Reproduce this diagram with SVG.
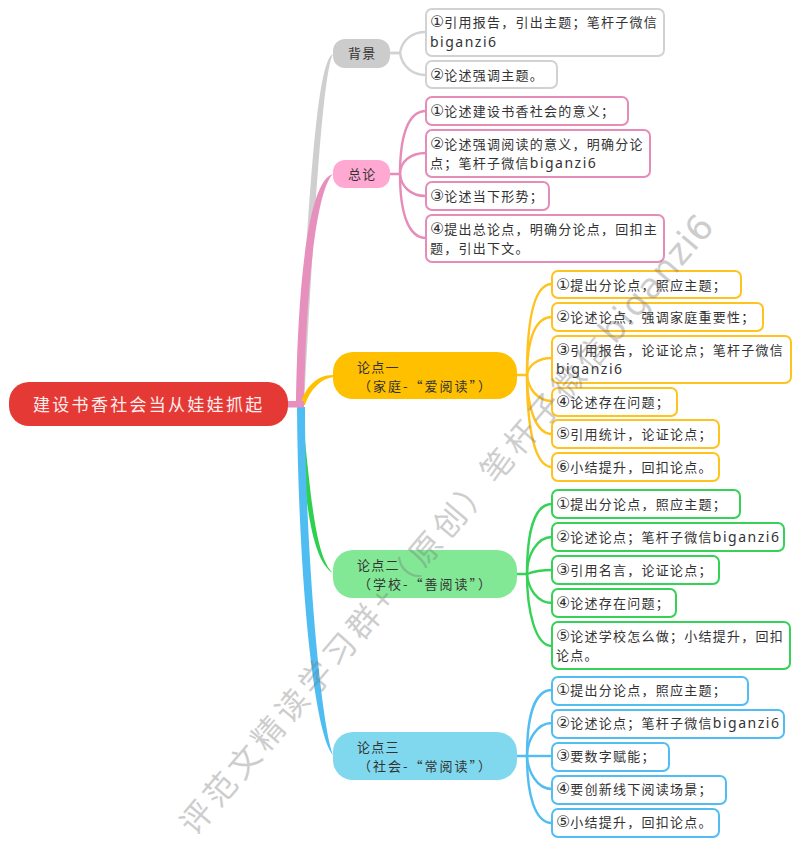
<svg xmlns="http://www.w3.org/2000/svg" width="800" height="845" viewBox="0 0 800 845">
<style>
text{font-family:"Noto Sans CJK SC","Noto Sans",sans-serif;font-size:13px;letter-spacing:1.25px;fill:#333}
.n{letter-spacing:2px}
.m{font-family:"Noto Sans",sans-serif;font-size:14px;letter-spacing:1.5px}
.d{font-family:"DejaVu Sans",sans-serif;font-size:16px;letter-spacing:0}
.box{fill:#fff;stroke-width:2}
.gy{stroke:#d2d2d2}.pk{stroke:#e58cb9}.yl{stroke:#ffc31f}.gn{stroke:#35d257}.bl{stroke:#52bdf2}
.c{fill:none;stroke-width:2.4}
.root{font-size:17px;letter-spacing:2.3px;fill:#ffeeee}
.wm{font-size:32px;letter-spacing:4.7px;fill:#777;opacity:.36}
.wm tspan{font-family:"DejaVu Sans",sans-serif;font-size:35px;letter-spacing:1px}
</style>
<rect width="800" height="845" fill="#fff"/>
<g id="connectors">
<path fill="#cfcfcf" d="M296,404C308,240 314,62 333,54C322,75 313,240 304,404Z"/>
<path fill="#e78fbd" d="M296,404C298,270 310,180 333,174C316,190 306,290 304,404Z"/>
<path fill="#ffc000" d="M300,405C305,388 316,375 333,375L333,377C320,379 310,390 305,405Z"/>
<path fill="#2ed14f" d="M300,420C304,490 310,560 333,573C316,558 311,500 303,420Z"/>
<path fill="#4fbdf2" d="M297,407C298,560 312,730 333,755C320,720 305,540 305,407Z"/>
<rect x="286" y="401" width="18" height="6.5" fill="#e78fbd"/>
<g class="c gy">
<path d="M390,53H400C402,40 412,32 426,32"/>
<path d="M390,53H400C402,66 412,75 426,75"/>
</g>
<g class="c pk">
<path d="M390,174H400C400,136 408,111 426,111"/>
<path d="M400,174C400,162 410,153 426,153"/>
<path d="M400,174C401,186 410,196 426,196"/>
<path d="M400,174C400,212 408,238 426,238"/>
</g>
<g class="c yl">
<path d="M517,375H527C527,320 534,284 552,284"/>
<path d="M527,375C527,340 535,317 552,317"/>
<path d="M527,375C528,366 537,358 552,358"/>
<path d="M527,375C528,388 537,401 552,401"/>
<path d="M527,375C527,405 535,434 552,434"/>
<path d="M527,375C527,425 534,467 552,467"/>
</g>
<g class="c gn">
<path d="M517,574H527C527,530 535,504 552,504"/>
<path d="M527,574C527,555 537,537 552,537"/>
<path d="M527,574C532,572 542,570 552,570"/>
<path d="M527,574C528,588 537,603 552,603"/>
<path d="M527,574C527,610 535,646 552,646"/>
</g>
<g class="c bl">
<path d="M517,756H527C527,715 535,690 552,690"/>
<path d="M527,756C527,740 537,723 552,723"/>
<path d="M527,756H552"/>
<path d="M527,756C528,772 537,789 552,789"/>
<path d="M527,756C527,795 535,823 552,823"/>
</g>
</g>
<g id="root"><rect x="9" y="382" width="279" height="44" rx="20" fill="#e53935"/><text class="root" x="33" y="411">建设书香社会当从娃娃抓起</text></g>
<g id="n-bj"><rect x="333" y="39" width="57" height="29" rx="12" fill="#cccccc"/><text x="348" y="58">背景</text></g>
<g id="n-zl"><rect x="333" y="160" width="57" height="28" rx="12" fill="#ffa8d2"/><text x="348" y="179">总论</text></g>
<g id="n-1"><rect x="333" y="352" width="184" height="47" rx="20" fill="#ffc000"/><text x="357" y="372">论点一</text><text class="n" x="358" y="391">（家庭-“爱阅读”）</text></g>
<g id="n-2"><rect x="333" y="550" width="184" height="48" rx="20" fill="#82e896"/><text x="357" y="570">论点二</text><text class="n" x="358" y="589">（学校-“善阅读”）</text></g>
<g id="n-3"><rect x="333" y="732" width="184" height="48" rx="20" fill="#7fd8ee"/><text x="357" y="752">论点三</text><text class="n" x="358" y="771">（社会-“常阅读”）</text></g>

<g id="b-bj1"><rect class="box gy" x="426" y="9" width="238" height="47" rx="6"/><text x="430" y="27"><tspan class="d">①</tspan>引用报告，引出主题；笔杆子微信</text><text class="m" x="430" y="47">biganzi6</text></g>
<g id="b-bj2"><rect class="box gy" x="426" y="61" width="131" height="27" rx="6"/><text x="430" y="80"><tspan class="d">②</tspan>论述强调主题。</text></g>
<g id="b-zl1"><rect class="box pk" x="426" y="97" width="202" height="28" rx="6"/><text x="430" y="116"><tspan class="d">①</tspan>论述建设书香社会的意义；</text></g>
<g id="b-zl2"><rect class="box pk" x="426" y="130" width="224" height="47" rx="6"/><text x="430" y="149"><tspan class="d">②</tspan>论述强调阅读的意义，明确分论</text><text x="430" y="168">点；笔杆子微信<tspan class="m">biganzi6</tspan></text></g>
<g id="b-zl3"><rect class="box pk" x="426" y="182" width="123" height="28" rx="6"/><text x="430" y="201"><tspan class="d">③</tspan>论述当下形势；</text></g>
<g id="b-zl4"><rect class="box pk" x="426" y="215" width="238" height="47" rx="6"/><text x="430" y="234"><tspan class="d">④</tspan>提出总论点，明确分论点，回扣主</text><text x="430" y="253">题，引出下文。</text></g>

<g id="b-y1"><rect class="box yl" x="552" y="271" width="189" height="27" rx="6"/><text x="556" y="290"><tspan class="d">①</tspan>提出分论点，照应主题；</text></g>
<g id="b-y2"><rect class="box yl" x="552" y="303" width="211" height="28" rx="6"/><text x="556" y="322"><tspan class="d">②</tspan>论述论点，强调家庭重要性；</text></g>
<g id="b-y3"><rect class="box yl" x="552" y="336" width="239" height="47" rx="6"/><text x="556" y="355"><tspan class="d">③</tspan>引用报告，论证论点；笔杆子微信</text><text class="m" x="556" y="374">biganzi6</text></g>
<g id="b-y4"><rect class="box yl" x="552" y="388" width="125" height="28" rx="6"/><text x="556" y="407"><tspan class="d">④</tspan>论述存在问题；</text></g>
<g id="b-y5"><rect class="box yl" x="552" y="420" width="167" height="28" rx="6"/><text x="556" y="439"><tspan class="d">⑤</tspan>引用统计，论证论点；</text></g>
<g id="b-y6"><rect class="box yl" x="552" y="453" width="167" height="28" rx="6"/><text x="556" y="472"><tspan class="d">⑥</tspan>小结提升，回扣论点。</text></g>

<g id="b-g1"><rect class="box gn" x="552" y="490" width="188" height="28" rx="6"/><text x="556" y="509"><tspan class="d">①</tspan>提出分论点，照应主题；</text></g>
<g id="b-g2"><rect class="box gn" x="552" y="523" width="232" height="28" rx="6"/><text x="556" y="542"><tspan class="d">②</tspan>论述论点；笔杆子微信<tspan class="m">biganzi6</tspan></text></g>
<g id="b-g3"><rect class="box gn" x="552" y="556" width="167" height="28" rx="6"/><text x="556" y="575"><tspan class="d">③</tspan>引用名言，论证论点；</text></g>
<g id="b-g4"><rect class="box gn" x="552" y="589" width="124" height="28" rx="6"/><text x="556" y="608"><tspan class="d">④</tspan>论述存在问题；</text></g>
<g id="b-g5"><rect class="box gn" x="552" y="622" width="238" height="47" rx="6"/><text x="556" y="641"><tspan class="d">⑤</tspan>论述学校怎么做；小结提升，回扣</text><text x="556" y="660">论点。</text></g>

<g id="b-b1"><rect class="box bl" x="552" y="677" width="196" height="28" rx="6"/><text x="556" y="695"><tspan class="d">①</tspan>提出分论点，照应主题；</text></g>
<g id="b-b2"><rect class="box bl" x="552" y="710" width="232" height="28" rx="6"/><text x="556" y="728"><tspan class="d">②</tspan>论述论点；笔杆子微信<tspan class="m">biganzi6</tspan></text></g>
<g id="b-b3"><rect class="box bl" x="552" y="743" width="117" height="28" rx="6"/><text x="556" y="761"><tspan class="d">③</tspan>要数字赋能；</text></g>
<g id="b-b4"><rect class="box bl" x="552" y="776" width="174" height="28" rx="6"/><text x="556" y="794"><tspan class="d">④</tspan>要创新线下阅读场景；</text></g>
<g id="b-b5"><rect class="box bl" x="552" y="809" width="167" height="28" rx="6"/><text x="556" y="827"><tspan class="d">⑤</tspan>小结提升，回扣论点。</text></g>

<g id="watermark"><text class="wm" transform="translate(195,837) rotate(-49.5)">评范文精读学习群+（原创）笔杆子微信<tspan>biganzi6</tspan></text></g>
</svg>
